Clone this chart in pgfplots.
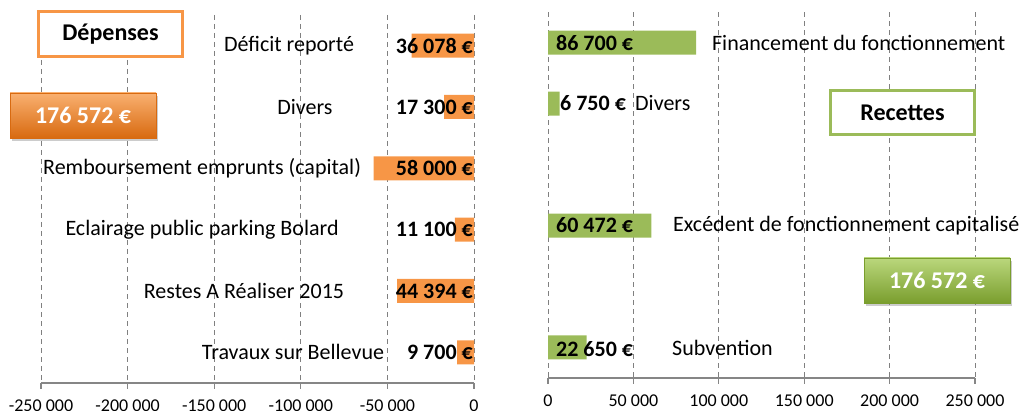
\documentclass[border=0pt]{standalone}
\usepackage{pgfplots}
\pgfplotsset{compat=1.18}
\usepackage{fontspec}
\setmainfont{Carlito}
\usetikzlibrary{shadows}
\definecolor{orng}{HTML}{F79646}
\definecolor{grn}{HTML}{9BBB59}
\definecolor{gridc}{HTML}{808080}
\definecolor{axc}{HTML}{868686}
\definecolor{otop}{HTML}{F9B070}
\definecolor{omid}{HTML}{F08424}
\definecolor{obot}{HTML}{D86A10}
\definecolor{gtop}{HTML}{BAD77C}
\definecolor{gmid}{HTML}{93BE40}
\definecolor{gbot}{HTML}{7A9E2E}
\pgfplotsset{
 mystyle/.style={
  scale only axis, clip=false,
  axis x line=bottom, axis y line=none,
  ymin=0.5, ymax=6.5, y dir=reverse,
  scaled x ticks=false,
  xmajorgrids, major grid style={gridc, dash pattern=on 5pt off 4pt, line width=0.9pt},
  axis line style={axc, line width=1.5pt, -},
  tick style={axc, line width=1.2pt},
  xtick align=outside, major tick length=6pt,
  tick label style={font=\fontsize{18}{20}\selectfont, text=black},
  xticklabel style={yshift=-7pt},
  xbar, bar width=24pt,
 }
}
\tikzset{
 vlab/.style={font=\bfseries\fontsize{22}{26}\selectfont, inner sep=1pt},
 clab/.style={font=\fontsize{22}{26}\selectfont, inner sep=1pt},
}
\begin{document}
\begin{tikzpicture}
\begin{axis}[mystyle, at={(41pt,28pt)}, anchor=south west, width=433pt, height=368pt,
  xmin=-250000, xmax=0,
  xtick={-250000,-200000,-150000,-100000,-50000,0},
  xticklabels={-250 000,-200 000,-150 000,-100 000,-50 000,0}]
\addplot[fill=orng, draw=none] coordinates {(-36078,1) (-17300,2) (-58000,3) (-11100,4) (-44394,5) (-9700,6)};
\node[vlab, anchor=east] at (axis cs:0,1) {36 078 €};
\node[vlab, anchor=east] at (axis cs:0,2) {17 300 €};
\node[vlab, anchor=east] at (axis cs:0,3) {58 000 €};
\node[vlab, anchor=east] at (axis cs:0,4) {11 100 €};
\node[vlab, anchor=east] at (axis cs:0,5) {44 394 €};
\node[vlab, anchor=east] at (axis cs:0,6) {9 700 €};
\node[clab] at (axis cs:-106800,1) {Déficit reporté};
\node[clab] at (axis cs:-97600,2) {Divers};
\node[clab] at (axis cs:-157000,3) {Remboursement emprunts (capital)};
\node[clab] at (axis cs:-157000,4) {Eclairage public parking Bolard};
\node[clab] at (axis cs:-132800,5) {Restes A Réaliser 2015};
\node[clab] at (axis cs:-104500,6) {Travaux sur Bellevue};
\end{axis}
\begin{axis}[mystyle, at={(548pt,33pt)}, anchor=south west, width=427pt, height=366pt,
  xmin=0, xmax=250000,
  xtick={0,50000,100000,150000,200000,250000},
  xticklabels={0,50 000,100 000,150 000,200 000,250 000}]
\addplot[fill=grn, draw=none] coordinates {(86700,1) (6750,2) (60472,4) (22650,6)};
\node[vlab, anchor=west, xshift=7pt] at (axis cs:0,1) {86 700 €};
\node[vlab, anchor=west, xshift=11pt] at (axis cs:0,2) {6 750 €};
\node[vlab, anchor=west, xshift=7pt] at (axis cs:0,4) {60 472 €};
\node[vlab, anchor=west, xshift=7pt, yshift=-2pt] at (axis cs:0,6) {22 650 €};
\node[clab, anchor=west] at (axis cs:95400,1) {Financement du fonctionnement};
\node[clab, anchor=west] at (axis cs:50350,2) {Divers};
\node[clab, anchor=west] at (axis cs:72600,4) {Excédent de fonctionnement capitalisé};
\node[clab, anchor=west] at (axis cs:72000,6) {Subvention};
\end{axis}
\node[draw=orng, line width=3pt, fill=white, minimum width=144pt, minimum height=45pt,
  font=\bfseries\fontsize{24}{27}\selectfont] at (110.5pt,377pt) {Dépenses};
\node[top color=otop, middle color=omid, bottom color=obot, draw=obot, line width=0.5pt,
  drop shadow={shadow xshift=2pt, shadow yshift=-3pt, opacity=0.4},
  minimum width=146pt, minimum height=45pt, text=white,
  font=\bfseries\fontsize{24}{27}\selectfont] at (83pt,295.5pt) {176 572 €};
\node[draw=grn, line width=3pt, fill=white, minimum width=144pt, minimum height=44pt,
  font=\bfseries\fontsize{24}{27}\selectfont] at (902.5pt,298.5pt) {Recettes};
\node[top color=gtop, middle color=gmid, bottom color=gbot, draw=gbot, line width=0.5pt,
  drop shadow={shadow xshift=2pt, shadow yshift=-3pt, opacity=0.4},
  minimum width=146pt, minimum height=45pt, text=white,
  font=\bfseries\fontsize{24}{27}\selectfont] at (937pt,130.5pt) {176 572 €};
\pgfresetboundingbox
\path (0,0) rectangle (1026pt,411pt);
\end{tikzpicture}
\end{document}
